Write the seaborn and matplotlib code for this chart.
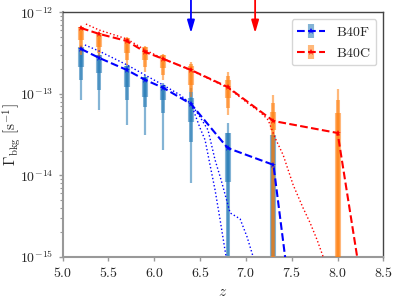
import numpy as np
import matplotlib
matplotlib.use("Agg")
import matplotlib.pyplot as plt
import seaborn as sns
from matplotlib.ticker import FuncFormatter, FixedLocator, LogLocator, NullFormatter
from matplotlib.legend_handler import HandlerTuple

# ---------------- data ----------------
z_f = [5.2, 5.4, 5.7, 5.9, 6.1, 6.4, 6.8, 7.3, 8.0]
gam_f = [3.55e-13, 2.75e-13, 1.96e-13, 1.48e-13, 1.18e-13, 7.5e-14, 2.16e-14, 1.34e-14, 8e-21]
z_c = [5.2, 5.4, 5.7, 5.9, 6.1, 6.4, 6.8, 7.3, 8.0, 8.5]
gam_c = [6.41e-13, 5.42e-13, 4.45e-13, 3.26e-13, 2.67e-13, 1.96e-13, 1.21e-13, 4.63e-14, 3.30e-14, 9e-18]

# B40F ranges (thin / medium / thick) at z_f[:8]
zb_f = [5.2, 5.4, 5.7, 5.9, 6.1, 6.4, 6.8, 7.3]
f_thin_hi = [3.97e-13, 3.17e-13, 2.32e-13, 1.70e-13, 1.36e-13, 1.18e-13, 4.38e-14, 3.30e-14]
f_thin_lo = [8.39e-14, 6.33e-14, 4.14e-14, 3.12e-14, 2.04e-14, 8.04e-15, 1e-17, 1e-17]
f_med_hi = [3.75e-13, 2.99e-13, 2.19e-13, 1.61e-13, 1.28e-13, 1.05e-13, 3.30e-14, 3.12e-14]
f_med_lo = [1.48e-13, 1.11e-13, 8.39e-14, 6.89e-14, 5.81e-14, 2.56e-14, 1e-17, 1e-17]
f_thk_hi = [3.75e-13, 2.99e-13, 2.19e-13, 1.61e-13, 1.28e-13, 8.88e-14, 3.30e-14, 3.12e-14]
f_thk_lo = [2.13e-13, 1.80e-13, 1.21e-13, 9.14e-14, 8.39e-14, 4.51e-14, 8.28e-15, 1e-17]

# B40C ranges at z_c[:9]
zb_c = [5.2, 5.4, 5.7, 5.9, 6.1, 6.4, 6.8, 7.3, 8.0]
c_thin_hi = [6.79e-13, 5.73e-13, 4.98e-13, 3.86e-13, 3.08e-13, 2.46e-13, 1.85e-13, 9.67e-14, 1.15e-13]
c_thin_lo = [2.99e-13, 2.75e-13, 2.26e-13, 1.85e-13, 1.48e-13, 9.14e-14, 5.49e-14, 1e-17, 1e-17]
c_med_hi = [6.60e-13, 5.57e-13, 4.84e-13, 3.75e-13, 2.99e-13, 2.32e-13, 1.65e-13, 7.71e-14, 8.39e-14]
c_med_lo = [3.65e-13, 3.17e-13, 2.60e-13, 2.13e-13, 1.70e-13, 1.05e-13, 6.70e-14, 1e-17, 1e-17]
c_thk_hi = [6.60e-13, 5.57e-13, 4.84e-13, 3.75e-13, 2.99e-13, 2.19e-13, 1.48e-13, 5.98e-14, 5.81e-14]
c_thk_lo = [4.57e-13, 3.75e-13, 3.17e-13, 2.60e-13, 2.07e-13, 1.28e-13, 8.88e-14, 3.59e-14, 1e-17]

# dotted model curves
zd_f1 = [5.243, 5.396, 5.702, 5.899, 6.096, 6.281, 6.401, 6.499, 6.586, 6.663, 6.729, 6.827, 6.936, 7.012, 7.078, 7.110]
gd_f1 = [3.97e-13, 3.35e-13, 2.26e-13, 1.70e-13, 1.28e-13, 9.67e-14, 7.50e-14, 5.19e-14, 3.59e-14, 1.54e-14, 8.75e-15, 3.45e-15, 2.91e-15, 1.75e-15, 1.0e-15, 6.9e-16]
zd_f2 = [6.401, 6.499, 6.554, 6.608, 6.663, 6.718, 6.783, 6.805]
gd_f2 = [7.50e-14, 3.80e-14, 2.71e-14, 1.34e-14, 6.59e-15, 2.83e-15, 1.0e-15, 6.9e-16]
zd_c = [5.254, 5.396, 5.702, 5.899, 6.096, 6.401, 6.805, 7.045, 7.154, 7.242, 7.318, 7.406, 7.515, 7.623, 7.700, 7.776, 7.842, 7.864]
gd_c = [7.18e-13, 6.07e-13, 4.70e-13, 3.45e-13, 2.70e-13, 1.93e-13, 1.18e-13, 7.29e-14, 5.98e-14, 4.77e-14, 2.87e-14, 1.77e-14, 7.60e-15, 3.97e-15, 2.60e-15, 1.61e-15, 1.0e-15, 7.9e-16]

arrow_z = [6.4, 7.1]
arrow_colors = ["blue", "red"]
labels = ["B40F", "B40C"]
xticks = [5.0, 5.5, 6.0, 6.5, 7.0, 7.5, 8.0, 8.5]
yticks = [1e-15, 1e-14, 1e-13, 1e-12]

# ---------------- style ----------------
sns.set_style("ticks")
plt.rcParams["mathtext.fontset"] = "cm"
plt.rcParams["font.family"] = ["DejaVu Serif"]

fig = plt.figure(figsize=(3.99, 2.99), dpi=100)
ax = fig.add_axes([0.157, 0.1415, 0.804, 0.8174])
ax.set_yscale("log")
ax.set_xlim(5.0, 8.5)
ax.set_ylim(1e-15, 1e-12)

def bars(zs, lo, hi, color, lw, alpha, z):
    return ax.vlines(np.asarray(zs), np.asarray(lo), np.asarray(hi),
                     colors=color, linewidth=lw, alpha=alpha, zorder=z)

# B40F bars
bars(zb_f, f_thin_lo, f_thin_hi, "C0", 1.6, 0.55, 2)
bars(zb_f, f_med_lo, f_med_hi, "C0", 2.9, 0.55, 2)
mf = np.array(gam_f[:8])
eb_f = ax.errorbar(zb_f, mf, yerr=[mf - np.array(f_thk_lo), np.array(f_thk_hi) - mf],
                   fmt="none", ecolor="C0", elinewidth=4.4, alpha=0.55, zorder=2)
# B40C bars
bars(zb_c, c_thin_lo, c_thin_hi, "C1", 1.6, 0.55, 3)
bars(zb_c, c_med_lo, c_med_hi, "C1", 2.9, 0.55, 3)
mc = np.array(gam_c[:9])
eb_c = ax.errorbar(zb_c, mc, yerr=[mc - np.array(c_thk_lo), np.array(c_thk_hi) - mc],
                   fmt="none", ecolor="C1", elinewidth=4.4, alpha=0.55, zorder=3)

# dotted curves
for zz, gg, col in [(zd_f1, gd_f1, "blue"), (zd_f2, gd_f2, "blue"), (zd_c, gd_c, "red")]:
    sns.lineplot(x=zz, y=gg, ax=ax, color=col, linestyle=":", linewidth=1.0,
                 sort=False, estimator=None, zorder=4)

# dashed median lines
sns.lineplot(x=z_f, y=gam_f, ax=ax, color="blue", linestyle="--", linewidth=1.5,
             marker="*", markersize=5, markeredgewidth=0, sort=False, estimator=None, zorder=5)
line_f = ax.lines[-1]
sns.lineplot(x=z_c, y=gam_c, ax=ax, color="red", linestyle="--", linewidth=1.5,
             marker="*", markersize=5, markeredgewidth=0, sort=False, estimator=None, zorder=5)
line_c = ax.lines[-1]

# arrows
for za, col in zip(arrow_z, arrow_colors):
    ax.annotate("", xy=(za, 0.915), xytext=(za, 1.05),
                xycoords=("data", "axes fraction"), textcoords=("data", "axes fraction"),
                arrowprops=dict(arrowstyle="-|>,head_length=0.75,head_width=0.22",
                                color=col, lw=1.3, shrinkA=0, shrinkB=0),
                annotation_clip=False)

# axes styling
ax.xaxis.set_major_locator(FixedLocator(xticks))
ax.xaxis.set_major_formatter(FuncFormatter(lambda v, p: r"$%.1f$" % v))
ax.yaxis.set_major_locator(FixedLocator(yticks))
ax.yaxis.set_major_formatter(FuncFormatter(lambda v, p: r"$10^{%d}$" % int(round(np.log10(v)))))
ax.yaxis.set_minor_locator(LogLocator(base=10, subs=np.arange(2, 10), numticks=20))
ax.yaxis.set_minor_formatter(NullFormatter())
ax.tick_params(axis="both", which="major", labelsize=10, color="#999999", length=3, width=1)
ax.tick_params(axis="y", which="minor", color="#999999", length=2, width=0.8)
for s in ["left", "bottom"]:
    ax.spines[s].set_color("#999999")
    ax.spines[s].set_linewidth(1.5)
for s in ["top", "right"]:
    ax.spines[s].set_color("#444444")
    ax.spines[s].set_linewidth(1.0)

ax.set_xlabel(r"$z$", fontsize=11)
ax.set_ylabel(r"$\Gamma_{\rm bkg}\ [{\rm s}^{-1}]$", fontsize=11)
ax.yaxis.set_label_coords(-0.125, 0.5)

leg = ax.legend([(eb_f, line_f), (eb_c, line_c)],
                [r"$\rm %s$" % labels[0], r"$\rm %s$" % labels[1]],
                handler_map={tuple: HandlerTuple(ndivide=1)},
                loc="upper right", fontsize=10, frameon=True, fancybox=True)
leg.get_frame().set_edgecolor("#cccccc")

fig.savefig("out.png", dpi=100)
